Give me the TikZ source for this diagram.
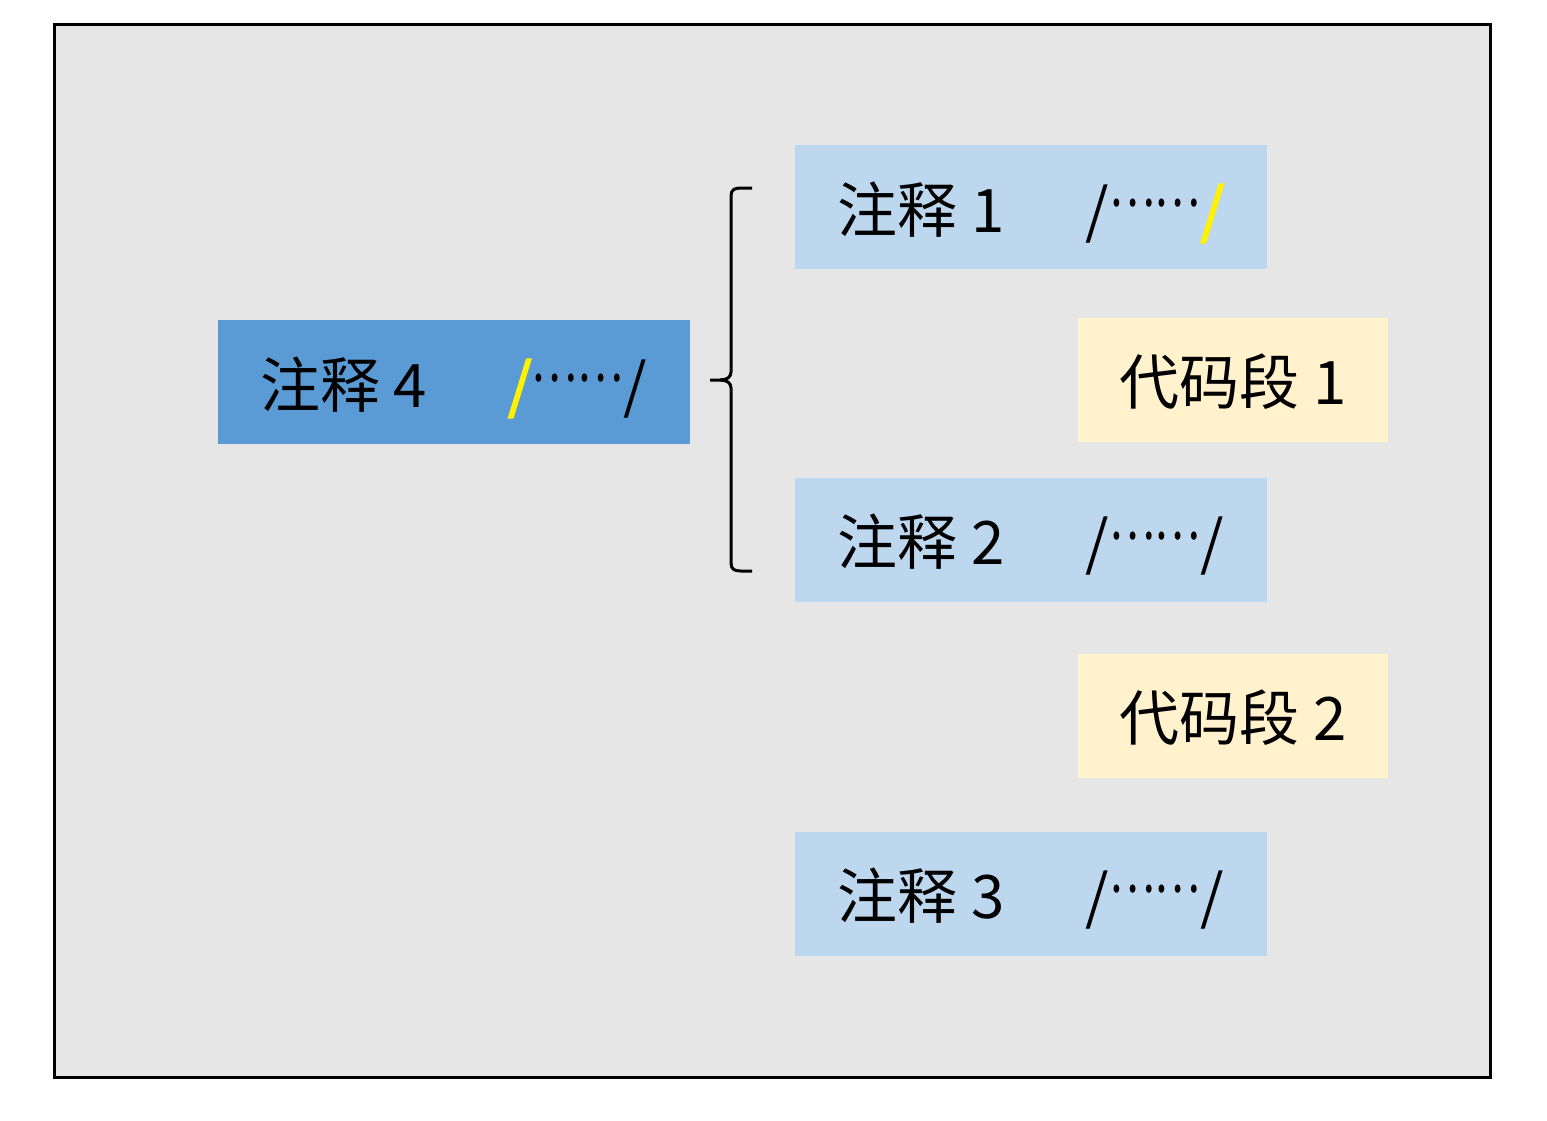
\documentclass[tikz,border=0pt]{standalone}
\usepackage{fontspec}
\newfontfamily\cjk{Noto Sans CJK SC}
\usetikzlibrary{positioning}

\definecolor{framegray}{HTML}{E7E6E6}
\definecolor{noteblue}{HTML}{BDD7EE}
\definecolor{darkblue}{HTML}{5B9BD5}
\definecolor{codecream}{HTML}{FFF2CC}

\newcommand{\middots}{\raisebox{0.43em}{\scalebox{0.72}[1]{……}}}
\newcommand{\yslash}{{\color{yellow}\addfontfeature{FakeBold=3}/}}
\newcommand{\slashdots}{/\middots/}
\newcommand{\slashdotsA}{/\middots\yslash}
\newcommand{\slashdotsB}{\yslash\middots/}

\tikzset{
  note/.style={fill=noteblue, minimum width=236pt, minimum height=62pt, inner sep=0pt,
    text height=33pt, text depth=8pt,
    font=\cjk\fontsize{30}{36}\selectfont},
  mainnote/.style={note, fill=darkblue},
  codebox/.style={note, fill=codecream, minimum width=155pt},
}

\begin{document}
\begin{tikzpicture}[x=0.5pt, y=-0.5pt]

  % Frame
  \useasboundingbox (0,0) rectangle (1547,1120);
  \draw[line width=1.5pt, fill=framegray] (54,24) rectangle (1490,1077);

  % Define nodes
  \node[note]                                          (n1) at (1031,207)  {注释 1\hspace{1.35em}\slashdotsA};
  \node[codebox, below left=24pt and -60.5pt of n1.south east] (c1) {代码段 1};
  \node[note, below=104pt of n1]                       (n2) {注释 2\hspace{1.35em}\slashdots};
  \node[codebox, below=105.5pt of c1]                  (c2) {代码段 2};
  \node[note, below=114.5pt of n2]                     (n3) {注释 3\hspace{1.35em}\slashdots};
  \node[mainnote]                                      (n4) at (453.5,382) {注释 4\hspace{1.35em}\slashdotsB};

  % Brace
  \coordinate (tip) at (710,380);
  \coordinate (btop) at (752,188);
  \coordinate (bbot) at (752,571);
  \draw[line width=1.5pt, line join=round]
    (btop) -- (741,188) .. controls (734,188) and (731,190) .. (731,196)
    -- (731,372) .. controls (731,377) and (727,380) .. (720,380) -- (tip);
  \draw[line width=1.5pt, line join=round]
    (720,380) .. controls (727,380) and (731,383) .. (731,388)
    -- (731,563) .. controls (731,569) and (734,571) .. (741,571) -- (bbot);

\end{tikzpicture}
\end{document}
